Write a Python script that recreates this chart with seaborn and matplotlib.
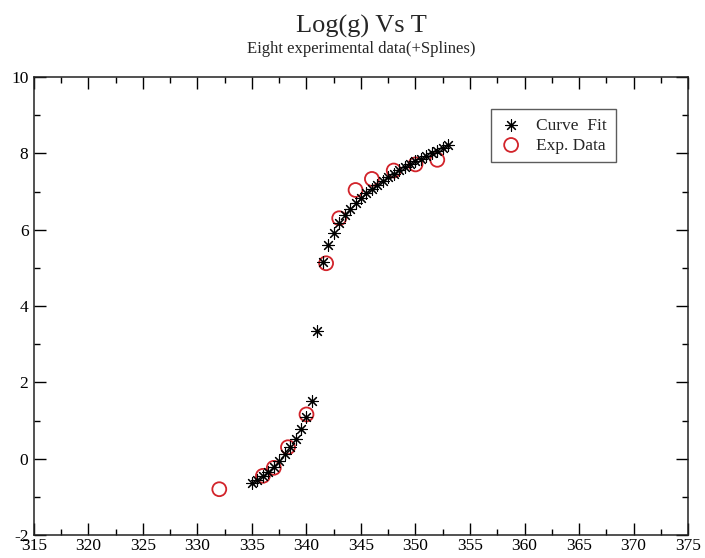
import matplotlib
matplotlib.use("Agg")
import matplotlib.pyplot as plt
import seaborn as sns
import numpy as np
import pandas as pd
from matplotlib.ticker import MultipleLocator

# Curve fit (spline) points
fit_T = [335.0, 335.5, 336.0, 336.5, 337.0, 337.5, 338.0, 338.5, 339.0, 339.5,
         340.0, 340.5, 341.0, 341.5, 342.0, 342.5, 343.0, 343.5, 344.0, 344.5,
         345.0, 345.5, 346.0, 346.5, 347.0, 347.5, 348.0, 348.5, 349.0, 349.5,
         350.0, 350.5, 351.0, 351.5, 352.0, 352.5, 353.0]
fit_logg = [-0.65, -0.55, -0.45, -0.35, -0.22, -0.05, 0.12, 0.30, 0.52, 0.78,
            1.08, 1.52, 3.35, 5.15, 5.60, 5.92, 6.18, 6.38, 6.55, 6.70,
            6.83, 6.95, 7.07, 7.18, 7.28, 7.38, 7.47, 7.56, 7.64, 7.72,
            7.79, 7.86, 7.93, 8.00, 8.07, 8.14, 8.21]

# Experimental points
exp_T = [332.0, 336.0, 337.0, 338.3, 340.0, 341.8, 343.0, 344.5, 346.0, 348.0, 350.0, 352.0]
exp_logg = [-0.80, -0.45, -0.24, 0.30, 1.16, 5.12, 6.30, 7.04, 7.33, 7.55, 7.71, 7.83]

fit_df = pd.DataFrame({"T": fit_T, "logg": fit_logg})
exp_df = pd.DataFrame({"T": exp_T, "logg": exp_logg})

sns.set_style("ticks")
plt.rcParams['font.family'] = ['Liberation Serif', 'DejaVu Serif']
plt.rcParams['axes.unicode_minus'] = False

fig = plt.figure(figsize=(7.05, 5.58), dpi=100)
ax = fig.add_axes([0.0482, 0.0412, 0.9277, 0.8208])

red = "#d2232a"
sns.scatterplot(data=fit_df, x="T", y="logg", ax=ax, marker=(8, 2, 0),
                color="black", s=70, linewidth=0.8, label="Curve  Fit", zorder=3)
sns.scatterplot(data=exp_df, x="T", y="logg", ax=ax, marker="o",
                color=red, facecolor="none", edgecolor=red, s=100,
                linewidth=1.3, label="Exp. Data", zorder=2)

ax.set_xlim(315, 375)
ax.set_ylim(-2, 10)
ax.xaxis.set_major_locator(MultipleLocator(5))
ax.xaxis.set_minor_locator(MultipleLocator(2.5))
ax.yaxis.set_major_locator(MultipleLocator(2))
ax.yaxis.set_minor_locator(MultipleLocator(1))
ax.tick_params(which="both", direction="in", top=True, right=True,
               labelsize=12.5, colors="black", width=1.0)
ax.tick_params(which="major", length=8.6)
ax.tick_params(which="minor", length=4.3)
ax.tick_params(axis="x", pad=2)
ax.tick_params(axis="y", pad=4)
ax.set_xlabel("")
ax.set_ylabel("")
for sp in ax.spines.values():
    sp.set_visible(True)
    sp.set_linewidth(1.1)
    sp.set_color("#222222")

leg = ax.legend(loc="upper left", bbox_to_anchor=(0.699, 0.930), fontsize=12.5,
                frameon=True, fancybox=False, edgecolor="#333333",
                borderpad=0.5, handletextpad=0.8, labelspacing=0.2,
                handlelength=1.3, borderaxespad=0)
leg.get_frame().set_linewidth(1.0)

fig.text(0.512, 0.9414, "Log(g) Vs T", ha="center", va="baseline", fontsize=19)
fig.text(0.512, 0.905, "Eight experimental data(+Splines)", ha="center",
         va="baseline", fontsize=12)

fig.savefig("out.png", dpi=100)
